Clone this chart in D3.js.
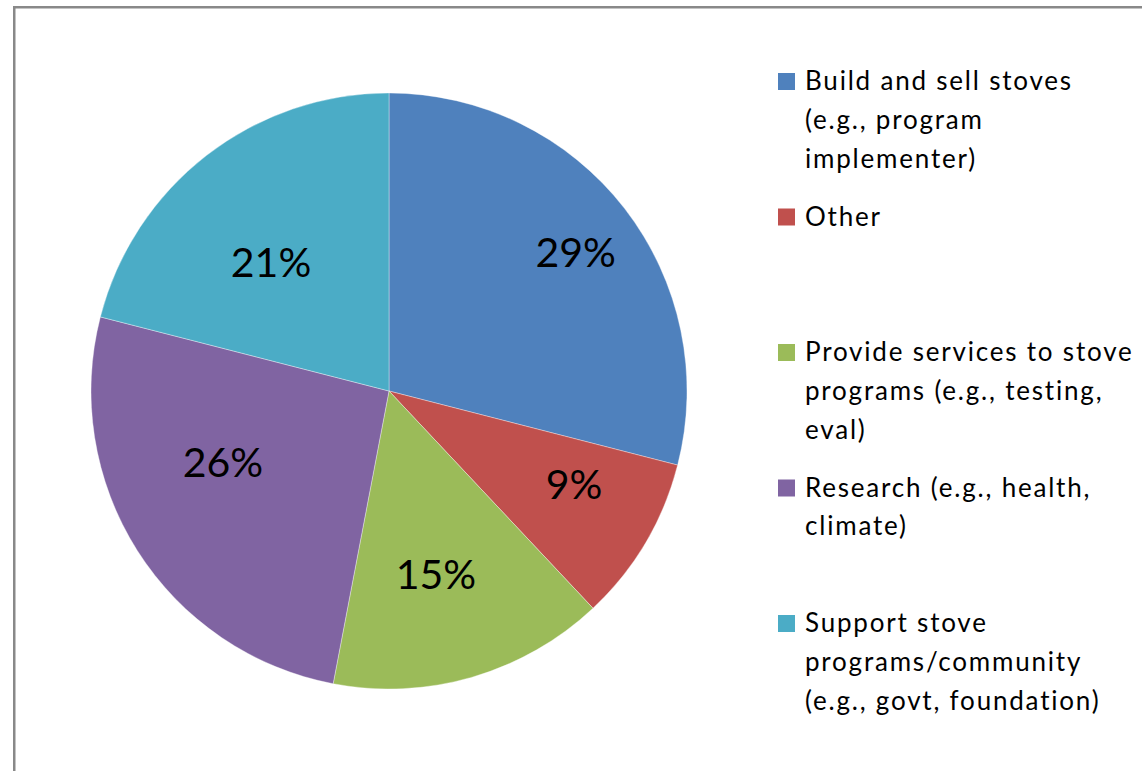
<!DOCTYPE html>
<html>
<head>
<meta charset="utf-8">
<script src="https://cdn.jsdelivr.net/npm/d3@7"></script>
<style>
  html, body { margin: 0; padding: 0; background: #fff; }
  svg { display: block; }
</style>
</head>
<body>
<svg id="chart" width="1142" height="771"></svg>
<script>
// Stove-sector respondent roles, share of responses (%)
const categories = [
  "Build and sell stoves (e.g., program implementer)",
  "Other",
  "Provide services to stove programs (e.g., testing, eval)",
  "Research (e.g., health, climate)",
  "Support stove programs/community (e.g., govt, foundation)"
];
const values = [29, 9, 15, 26, 21];

// Legend text, pre-wrapped into lines
const legendLines = [
  ["Build and sell stoves", "(e.g., program", "implementer)"],
  ["Other"],
  ["Provide services to stove", "programs (e.g., testing,", "eval)"],
  ["Research (e.g., health,", "climate)"],
  ["Support stove", "programs/community", "(e.g., govt, foundation)"]
];

const colors = ["#4F81BD", "#C0504D", "#9BBB59", "#8064A2", "#4BACC6"];

// Label placement: angle nudge (deg) from slice middle and radius fraction
const labelNudgeDeg = [1.2, -3.9, 1.8, 9.2, -4.6];
const labelRadiusFrac = [0.78, 0.695, 0.634, 0.606, 0.587];

const svg = d3.select("#chart");
const W = 1142, H = 771;
const font = "Lato, 'Open Sans', 'DejaVu Sans', sans-serif";

// Chart frame
svg.append("rect")
  .attr("x", 14.25).attr("y", 7.25)
  .attr("width", W + 20).attr("height", H + 20)
  .attr("fill", "#fff")
  .attr("stroke", "#898989")
  .attr("stroke-width", 2.5);

const cx = 389, cy = 391, R = 298;

const pie = d3.pie().sort(null).value(d => d)
  .startAngle(0).endAngle(2 * Math.PI);
const arcs = pie(values);
const arc = d3.arc().innerRadius(0).outerRadius(R);

const g = svg.append("g").attr("transform", `translate(${cx},${cy})`);

g.selectAll("path.slice")
  .data(arcs)
  .join("path")
  .attr("class", "slice")
  .attr("d", arc)
  .attr("fill", (d, i) => colors[i])
  .attr("stroke", "#ffffff")
  .attr("stroke-width", 0.6)
  .attr("stroke-opacity", 0.6);

g.selectAll("text.pct")
  .data(arcs)
  .join("text")
  .attr("class", "pct")
  .attr("transform", (d, i) => {
    const a = (d.startAngle + d.endAngle) / 2 + labelNudgeDeg[i] * Math.PI / 180;
    const r = R * labelRadiusFrac[i];
    return `translate(${r * Math.sin(a)},${-r * Math.cos(a)})`;
  })
  .attr("text-anchor", "middle")
  .attr("dy", "0.36em")
  .attr("font-family", font)
  .attr("font-size", 41)
  .attr("fill", "#000")
  .text(d => d3.format(".0f")(d.data) + "%");

// Legend
const legendX = 778, firstBaseline = 90, entryStep = 135.5, lineStep = 38.8;
const lg = svg.append("g");
const entries = lg.selectAll("g.entry")
  .data(categories)
  .join("g")
  .attr("class", "entry")
  .attr("transform", (d, i) => `translate(${legendX},${firstBaseline + i * entryStep})`);

entries.append("rect")
  .attr("x", 0).attr("y", -17)
  .attr("width", 17).attr("height", 17)
  .attr("fill", (d, i) => colors[i]);

entries.append("text")
  .attr("font-family", font)
  .attr("font-size", 26)
  .attr("letter-spacing", 1.8)
  .attr("fill", "#000")
  .selectAll("tspan")
  .data((d, i) => legendLines[i])
  .join("tspan")
  .attr("x", 27)
  .attr("y", (d, j) => j * lineStep)
  .text(d => d);
</script>
</body>
</html>
